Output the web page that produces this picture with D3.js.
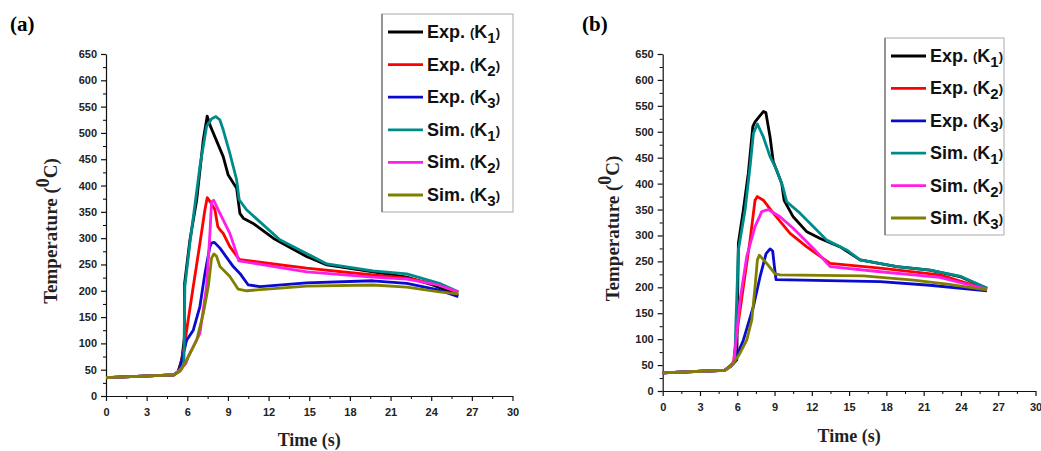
<!DOCTYPE html>
<html>
<head>
<meta charset="utf-8">
<script src="https://cdn.jsdelivr.net/npm/d3@7"></script>
<style>
    body { margin: 0; background: #fff; }
    svg { display: block; }
</style>
</head>
<body>
<svg id="chart" width="1041" height="451"></svg>
<script>
// series names and colours (legend order, also drawing order)
const seriesNames = ["Exp.", "Exp.", "Exp.", "Sim.", "Sim.", "Sim."];
const seriesSubs = ["1", "2", "3", "1", "2", "3"];
const seriesColors = ["#000000", "#ff0000", "#0a0ad0", "#008b8b", "#ff1ee8", "#808000"];

const xTicks = [0, 3, 6, 9, 12, 15, 18, 21, 24, 27, 30];
const yTicks = [0, 50, 100, 150, 200, 250, 300, 350, 400, 450, 500, 550, 600, 650];

// panel (a): [time s, temperature C]
const aExpK1 = [[0,35],[5,40],[5.3,45],[5.6,70],[5.78,110],[5.8,214],[6.19,296],[6.69,372],[7.18,487],[7.47,532],[7.72,512],[8.65,455],[9.02,420],[9.64,395],[9.88,347],[10.13,338],[10.86,328],[12.34,300],[14.8,265],[16.3,249],[19.7,236],[22.2,226],[24.1,211],[26,192]];
const aExpK2 = [[0,35],[5,40],[5.4,48],[5.8,95],[5.95,125],[6.44,208],[6.93,290],[7.3,354],[7.47,377],[7.72,368],[8.04,354],[8.25,322],[8.41,316],[8.65,309],[9.14,284],[9.68,265],[9.88,259],[14.8,243],[19.7,230],[22.2,224],[24.5,212],[26,197]];
const aExpK3 = [[0,35],[5,40],[5.4,48],[5.8,90],[5.95,106],[6.44,125],[6.93,170],[7.3,233],[7.67,284],[7.79,291],[8.0,292],[8.41,281],[9.39,246],[9.88,233],[10.5,211],[11.36,208],[14.8,215],[19.7,219],[22.2,214],[24.6,201],[26,189]];
const aSimK1 = [[0,35],[5,40],[5.4,48],[5.75,60],[5.82,208],[6.19,290],[6.93,436],[7.42,512],[7.8,527],[8.11,531],[8.4,525],[8.65,506],[9.14,461],[9.64,411],[9.83,373],[10.37,354],[11.36,331],[12.83,297],[14.8,271],[16.3,251],[19.7,238],[22.2,232],[24.6,214],[26,198]];
const aSimK2 = [[0,35],[5,40],[5.4,48],[5.9,62],[6.07,75],[6.93,119],[7.42,208],[7.67,309],[7.79,369],[7.95,372],[8.41,347],[9.14,309],[9.64,271],[9.8,257],[14.8,236],[19.7,226],[22.2,222],[24.5,211],[26,198]];
const aSimK3 = [[0,35],[5,40],[5.5,48],[5.95,68],[6.69,106],[7.18,157],[7.55,208],[7.79,262],[7.96,270],[8.15,266],[8.41,246],[9.14,227],[9.76,203],[10.37,200],[14.8,209],[19.7,211],[22.2,207],[24.6,198],[26,194]];

// panel (b)
const bExpK1 = [[0,35],[5,40],[5.5,48],[5.96,60],[6.09,285],[6.49,349],[6.89,420],[7.25,510],[7.43,519],[7.8,530],[8.1,539],[8.3,537],[8.64,490],[8.9,442],[9.58,400],[9.77,368],[10.5,336],[11.6,307],[12.67,294],[14.28,278],[15.88,253],[18.84,240],[21.5,233],[24,220],[26.1,198]];
const bExpK2 = [[0,35],[5,40],[5.4,48],[5.7,55],[5.96,111],[6.49,201],[7.03,291],[7.43,368],[7.62,375],[8.1,368],[8.9,343],[10.25,304],[11.6,278],[13.47,246],[17.5,237],[22.3,224],[26.1,196]];
const bExpK3 = [[0,35],[5,40],[5.69,53],[6.49,98],[7.3,163],[7.83,220],[8.32,265],[8.64,274],[8.85,270],[8.99,240],[9.12,215],[17.5,211],[21.5,204],[26.1,193]];
const bSimK1 = [[0,35],[5,40],[5.5,48],[5.8,60],[5.88,124],[6.09,272],[6.63,349],[7.03,433],[7.3,497],[7.62,515],[8.1,490],[8.64,452],[9.18,426],[9.66,394],[9.98,365],[11.05,343],[12.13,317],[13.2,291],[14.8,272],[15.88,253],[18.84,240],[21.5,233],[24,221],[26.1,198]];
const bSimK2 = [[0,35],[5,40],[5.5,48],[5.75,60],[6.22,175],[6.76,259],[7.43,317],[7.97,346],[8.5,350],[9.44,336],[10.5,314],[12.13,275],[13.47,240],[17.5,230],[22.3,219],[26.1,196]];
const bSimK3 = [[0,35],[5.02,40],[5.69,53],[6.22,73],[6.76,98],[7.17,137],[7.43,201],[7.62,253],[7.78,262],[8.37,246],[9.04,226],[9.44,224],[16.15,222],[20.18,214],[22.9,206],[26.1,195]];

const svg = d3.select("#chart");
const tickFont = "'Liberation Sans', Arial, sans-serif";
const serifFont = "'Liberation Serif', 'Times New Roman', serif";

/**
 * @param {{ label: string, labelX: number, x0: number, x1: number, y0: number, y1: number,
 *   series: number[][][], legend: { x: number, y: number, w: number, h: number, rowY: number, step: number },
 *   yTitleX: number, xTitleY: number }} p
 */
function drawPanel(p) {
    const xScale = d3.scaleLinear().domain([0, 30]).range([p.x0, p.x1]);
    const yScale = d3.scaleLinear().domain([0, 650]).range([p.y0, p.y1]);

    // minor ticks
    svg.append("g")
        .attr("transform", `translate(0, ${p.y0})`)
        .call(d3.axisBottom(xScale).tickValues(d3.range(1.5, 30, 3)).tickSize(3).tickFormat(""))
        .call(g => g.select(".domain").remove());
    svg.append("g")
        .attr("transform", `translate(${p.x0}, 0)`)
        .call(d3.axisLeft(yScale).tickValues(d3.range(25, 650, 50)).tickSize(3).tickFormat(""))
        .call(g => g.select(".domain").remove());

    const xAxis = svg.append("g")
        .attr("transform", `translate(0, ${p.y0})`)
        .call(d3.axisBottom(xScale).tickValues(xTicks).tickSize(5).tickPadding(7).tickSizeOuter(0));
    const yAxis = svg.append("g")
        .attr("transform", `translate(${p.x0}, 0)`)
        .call(d3.axisLeft(yScale).tickValues(yTicks).tickSize(5).tickPadding(4).tickSizeOuter(0));

    [xAxis, yAxis].forEach(g => {
        g.selectAll("text")
            .attr("font-family", tickFont)
            .attr("font-weight", "bold")
            .attr("font-size", 11)
            .attr("fill", "#222");
        g.selectAll("line, path").attr("stroke", "#111").attr("stroke-width", 1.2);
    });

    const line = d3.line().x(d => xScale(d[0])).y(d => yScale(d[1]));
    p.series.forEach((s, i) => {
        svg.append("path")
            .datum(s)
            .attr("d", line)
            .attr("fill", "none")
            .attr("stroke", seriesColors[i])
            .attr("stroke-width", 2.8)
            .attr("stroke-linejoin", "round");
    });

    // legend
    const lg = p.legend;
    svg.append("rect")
        .attr("x", lg.x).attr("y", lg.y)
        .attr("width", lg.w).attr("height", lg.h)
        .attr("fill", "#fff")
        .attr("stroke", "#aaa")
        .attr("stroke-width", 1);
    svg.append("line")
        .attr("x1", lg.x).attr("x2", lg.x)
        .attr("y1", lg.y).attr("y2", lg.y + lg.h)
        .attr("stroke", "#555").attr("stroke-width", 1);
    seriesNames.forEach((name, i) => {
        const y = lg.rowY + i * lg.step;
        svg.append("line")
            .attr("x1", lg.x + 6).attr("x2", lg.x + 41)
            .attr("y1", y).attr("y2", y)
            .attr("stroke", seriesColors[i])
            .attr("stroke-width", 2.8);
        const t = svg.append("text")
            .attr("x", lg.x + 45)
            .attr("y", y + 6)
            .attr("font-family", tickFont)
            .attr("font-weight", "bold")
            .attr("font-size", 18)
            .attr("fill", "#111");
        t.append("tspan").text(name + " ");
        t.append("tspan").attr("font-size", 13).attr("dy", -1).text("(");
        t.append("tspan").attr("font-size", 18).attr("dy", 1).text("K");
        t.append("tspan").attr("font-size", 15).attr("dy", 5).text(seriesSubs[i]);
        t.append("tspan").attr("font-size", 13).attr("dy", -6).text(")");
    });

    // panel label
    svg.append("text")
        .attr("x", p.labelX).attr("y", 31)
        .attr("font-family", serifFont)
        .attr("font-weight", "bold")
        .attr("font-size", 21)
        .text(p.label);

    // axis titles
    svg.append("text")
        .attr("x", (p.x0 + p.x1) / 2)
        .attr("y", p.xTitleY)
        .attr("text-anchor", "middle")
        .attr("font-family", serifFont)
        .attr("font-weight", "bold")
        .attr("font-size", 18)
        .attr("fill", "#222")
        .text("Time (s)");

    const yt = svg.append("text")
        .attr("transform", `translate(${p.yTitleX}, ${(p.y0 + p.y1) / 2 + 6}) rotate(-90)`)
        .attr("text-anchor", "middle")
        .attr("font-family", serifFont)
        .attr("font-weight", "bold")
        .attr("font-size", 19)
        .attr("fill", "#222");
    yt.append("tspan").text("Temperature (");
    yt.append("tspan").attr("dy", -8).attr("font-size", 18).text("0");
    yt.append("tspan").attr("dy", 8).text("C)");
}

drawPanel({
    label: "(a)", labelX: 10,
    x0: 106, x1: 512.5, y0: 396, y1: 54,
    series: [aExpK1, aExpK2, aExpK3, aSimK1, aSimK2, aSimK3],
    legend: { x: 382, y: 14, w: 131, h: 198, rowY: 32, step: 32.6 },
    yTitleX: 57, xTitleY: 446
});

drawPanel({
    label: "(b)", labelX: 582,
    x0: 662.7, x1: 1035.5, y0: 391, y1: 54,
    series: [bExpK1, bExpK2, bExpK3, bSimK1, bSimK2, bSimK3],
    legend: { x: 885, y: 38, w: 119, h: 197, rowY: 56, step: 32.4 },
    yTitleX: 619, xTitleY: 442
});
</script>
</body>
</html>
